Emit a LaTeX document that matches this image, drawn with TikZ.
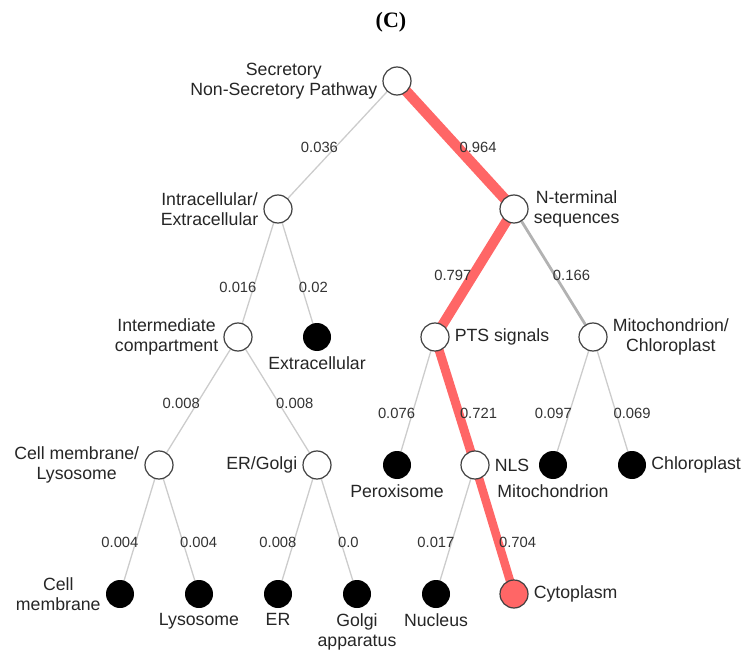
\documentclass[tikz,border=0pt]{standalone}
\usepackage{fontspec}
\setsansfont{Liberation Sans}
\newfontfamily\titlefont{Liberation Serif}
\usepackage{tikz}
\usetikzlibrary{positioning,backgrounds}
\definecolor{hitred}{RGB}{255,102,102}

\begin{document}
\begin{tikzpicture}[on grid,node distance=128pt,
  inner node/.style={circle,draw=black!75,line width=1.2pt,fill=white,minimum size=28pt,inner sep=0pt},
  leaf node/.style={circle,fill=black,minimum size=28pt,inner sep=0pt},
  hit node/.style={inner node,fill=hitred},
  every label/.style={font=\sffamily\fontsize{17.7}{20}\selectfont,text=black!85,align=center,inner sep=0pt},
  label distance=5pt,
  weak/.style={draw=black!20,line width=1.3pt},
  medium/.style={draw=black!30,line width=2.8pt},
  strong/.style={draw=hitred,line width=#1},
  prob/.style={font=\sffamily\fontsize{14.8}{16}\selectfont,text=black!80,inner sep=0pt},
  prob left/.style={prob,anchor=east,xshift=3.5pt},
  prob right/.style={prob,anchor=west,xshift=-3.5pt}]

  \useasboundingbox (0,0) rectangle (745pt,-650pt);
  \node[font=\titlefont\bfseries\fontsize{22}{24}\selectfont] (title) at (391pt,-22pt) {(C)};

  % decision nodes
  \node[inner node,label=left:{Secretory\\Non-Secretory Pathway}] (root) at (397pt,-81pt) {};
  \node[inner node,label=left:{Intracellular/\\Extracellular}] (intra) [below left=128pt and 119pt of root] {};
  \node[inner node,label=right:{N-terminal\\sequences}] (nterm) [below right=128pt and 117pt of root] {};
  \node[inner node,label=left:{Intermediate\\compartment}] (inter) [below left=128pt and 40pt of intra] {};
  \node[leaf node,label=below:Extracellular] (extra) [below right=128pt and 39pt of intra] {};
  \node[inner node,label=right:PTS signals] (pts) [below left=128pt and 79pt of nterm] {};
  \node[inner node,label=right:{Mitochondrion/\\Chloroplast}] (mitochl) [below right=128pt and 79pt of nterm] {};
  \node[inner node,label=left:{Cell membrane/\\Lysosome}] (cmlyso) [below left=128pt and 79pt of inter] {};
  \node[inner node,label=left:ER/Golgi] (ergolgi) [below right=128pt and 79pt of inter] {};
  \node[leaf node,label=below:Peroxisome] (perox) [below left=128pt and 38pt of pts] {};
  \node[inner node,label=right:NLS] (nls) [below right=128pt and 40pt of pts] {};
  \node[leaf node,label=below:Mitochondrion] (mito) [below left=128pt and 40pt of mitochl] {};
  \node[leaf node,label=right:Chloroplast] (chloro) [below right=128pt and 39pt of mitochl] {};

  % locations
  \node[leaf node,label=left:{Cell\\membrane}] (cellmem) [below left=129pt and 39pt of cmlyso] {};
  \node[leaf node,label=below:Lysosome] (lyso) [below right=129pt and 40pt of cmlyso] {};
  \node[leaf node,label=below:ER] (er) [below left=129pt and 39pt of ergolgi] {};
  \node[leaf node,label=below:{Golgi\\apparatus}] (golgi) [below right=129pt and 40pt of ergolgi] {};
  \node[leaf node,label=below:Nucleus] (nucleus) [below left=129pt and 39pt of nls] {};
  \node[hit node,label=right:Cytoplasm] (cyto) [below right=129pt and 39pt of nls] {};

  \begin{scope}[on background layer]
  \path (root.center) edge[weak] node[prob left,pos=.52] {0.036} (intra.center)
        edge[strong=10.5pt] node[prob right,pos=.52] {0.964} (nterm.center);
  \path (intra.center) edge[weak] node[prob left,pos=.61] {0.016} (inter.center)
        edge[weak] node[prob right,pos=.61] {0.02} (extra.center);
  \path (nterm.center) edge[strong=10pt] node[prob left,pos=.52] {0.797} (pts.center)
        edge[medium] node[prob right,pos=.52] {0.166} (mitochl.center);
  \path (inter.center) edge[weak] node[prob left,pos=.52] {0.008} (cmlyso.center)
        edge[weak] node[prob right,pos=.52] {0.008} (ergolgi.center);
  \path (pts.center) edge[weak] node[prob left,pos=.6] {0.076} (perox.center)
        edge[strong=9pt] node[prob right,pos=.6] {0.721} (nls.center);
  \path (mitochl.center) edge[weak] node[prob left,pos=.6] {0.097} (mito.center)
        edge[weak] node[prob right,pos=.6] {0.069} (chloro.center);
  \path (cmlyso.center) edge[weak] node[prob left,pos=.6] {0.004} (cellmem.center)
        edge[weak] node[prob right,pos=.6] {0.004} (lyso.center);
  \path (ergolgi.center) edge[weak] node[prob left,pos=.6] {0.008} (er.center)
        edge[weak] node[prob right,pos=.6] {0.0} (golgi.center);
  \path (nls.center) edge[weak] node[prob left,pos=.6] {0.017} (nucleus.center)
        edge[strong=8.5pt] node[prob right,pos=.6] {0.704} (cyto.center);
  \end{scope}

\end{tikzpicture}
\end{document}
